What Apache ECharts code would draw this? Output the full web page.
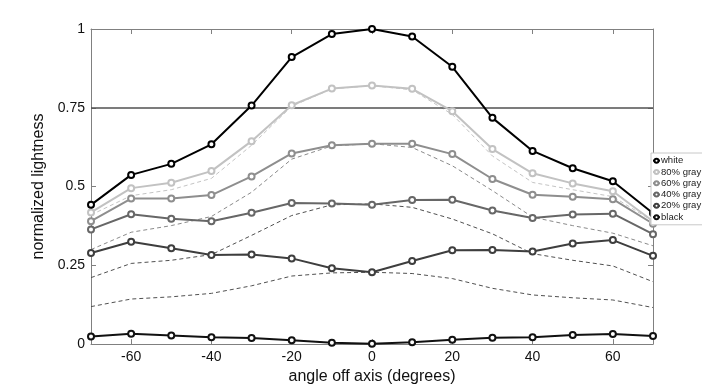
<!DOCTYPE html>
<html>
<head>
<meta charset="utf-8">
<script src="https://cdn.jsdelivr.net/npm/echarts@6/dist/echarts.min.js"></script>
<style>html,body{margin:0;padding:0;background:#fff}#c{width:702px;height:390px}</style>
</head>
<body>
<div id="c"></div>
<script>
const angles = [-70,-60,-50,-40,-30,-20,-10,0,10,20,30,40,50,60,70];
const xTicks = [-60,-40,-20,0,20,40,60];
const threshold = 0.75;

const white  = [0.442,0.537,0.572,0.634,0.757,0.911,0.984,1.0,0.976,0.88,0.718,0.613,0.558,0.517,0.415];
const gray80 = [0.418,0.495,0.512,0.549,0.644,0.758,0.811,0.821,0.81,0.739,0.619,0.542,0.51,0.485,0.39];
const gray60 = [0.39,0.462,0.462,0.473,0.532,0.605,0.631,0.636,0.636,0.603,0.524,0.474,0.468,0.46,0.382];
const gray40 = [0.364,0.412,0.398,0.39,0.417,0.448,0.446,0.442,0.457,0.458,0.424,0.40,0.411,0.414,0.349];
const gray20 = [0.289,0.325,0.304,0.283,0.284,0.272,0.241,0.228,0.264,0.298,0.299,0.294,0.319,0.33,0.28];
const black  = [0.024,0.033,0.027,0.022,0.019,0.012,0.004,0.001,0.006,0.014,0.02,0.022,0.029,0.032,0.026];

const ref80 = [0.41,0.471,0.49,0.526,0.631,0.755,0.81,0.82,0.807,0.729,0.597,0.513,0.49,0.468,0.39];
const ref60 = [0.30,0.355,0.376,0.405,0.482,0.587,0.629,0.636,0.624,0.566,0.487,0.403,0.376,0.352,0.312];
const ref40 = [0.211,0.256,0.266,0.284,0.345,0.408,0.442,0.445,0.434,0.397,0.35,0.287,0.266,0.248,0.198];
const ref20 = [0.119,0.143,0.150,0.161,0.185,0.216,0.226,0.228,0.224,0.208,0.177,0.156,0.147,0.140,0.116];

const pairs = arr => angles.map((a,i) => [a, arr[i]]);
const FONT = 'Liberation Sans';

function solid(name, arr, color, z) {
  return {
    name: name, type: 'line', data: pairs(arr), z: z,
    symbol: 'emptyCircle', symbolSize: 6,
    lineStyle: {color: color, width: 2},
    itemStyle: {color: color, borderColor: color, borderWidth: 1.5},
    emphasis: {disabled: true}
  };
}
function dashed(arr, color) {
  return {
    type: 'line', data: pairs(arr), symbol: 'none', z: 1,
    lineStyle: {color: color, width: 1, type: [4, 3]},
    emphasis: {disabled: true}
  };
}

const axisLineStyle = {color: '#808080', width: 1};

const option = {
  animation: false,
  backgroundColor: '#fff',
  textStyle: {fontFamily: FONT},
  grid: {left: 91, right: 49, top: 29, bottom: 44},
  legend: {
    orient: 'vertical', left: 651, top: 153,
    itemWidth: 7, itemHeight: 5, itemGap: 0,
    padding: [2, 10, 2, 1],
    borderColor: '#c8c8c8', borderWidth: 1, backgroundColor: '#fff',
    textStyle: {fontFamily: FONT, fontSize: 9.5, lineHeight: 11.3, color: '#222', padding: [0, 0, 0, -4]},
    data: ['white','80% gray','60% gray','40% gray','20% gray','black'],
    z: 10
  },
  xAxis: [{
    type: 'value', min: -70, max: 70,
    name: 'angle off axis (degrees)', nameLocation: 'middle', nameGap: 22,
    nameTextStyle: {fontFamily: FONT, fontSize: 16, color: '#111'},
    axisLine: {show: true, onZero: false, lineStyle: axisLineStyle},
    axisTick: {show: true, inside: true, length: 5, customValues: xTicks, lineStyle: axisLineStyle},
    axisLabel: {customValues: xTicks, fontFamily: FONT, fontSize: 14, color: '#111', margin: 6},
    splitLine: {show: false}
  }, {
    type: 'value', min: -70, max: 70, position: 'top',
    axisLine: {show: true, onZero: false, lineStyle: axisLineStyle},
    axisTick: {show: true, inside: true, length: 5, customValues: xTicks, lineStyle: axisLineStyle},
    axisLabel: {show: false, customValues: xTicks},
    splitLine: {show: false}
  }],
  yAxis: [{
    type: 'value', min: 0, max: 1, interval: 0.25,
    name: 'normalized lightness', nameLocation: 'middle', nameGap: 34,
    nameTextStyle: {fontFamily: FONT, fontSize: 16, color: '#111'},
    axisLine: {show: true, onZero: false, lineStyle: axisLineStyle},
    axisTick: {show: true, inside: true, length: 5, lineStyle: axisLineStyle},
    axisLabel: {fontFamily: FONT, fontSize: 14, color: '#111', margin: 6},
    splitLine: {show: false}
  }, {
    type: 'value', min: 0, max: 1, interval: 0.25, position: 'right',
    axisLine: {show: true, onZero: false, lineStyle: axisLineStyle},
    axisTick: {show: true, inside: true, length: 5, lineStyle: axisLineStyle},
    axisLabel: {show: false},
    splitLine: {show: false}
  }],
  series: [
    dashed(ref20, '#505050'),
    dashed(ref40, '#505050'),
    dashed(ref60, '#8a8a8a'),
    dashed(ref80, '#c4c4c4'),
    {
      type: 'line', data: [], z: 2,
      markLine: {
        silent: true, symbol: 'none', label: {show: false},
        lineStyle: {color: '#505050', width: 1.5, type: 'solid'},
        data: [{yAxis: threshold}]
      }
    },
    solid('black', black, '#111111', 9),
    solid('20% gray', gray20, '#3e3e3e', 4),
    solid('40% gray', gray40, '#676767', 5),
    solid('60% gray', gray60, '#8e8e8e', 6),
    solid('80% gray', gray80, '#c2c2c2', 7),
    solid('white', white, '#000000', 8)
  ]
};

echarts.init(document.getElementById('c')).setOption(option);
</script>
</body>
</html>
